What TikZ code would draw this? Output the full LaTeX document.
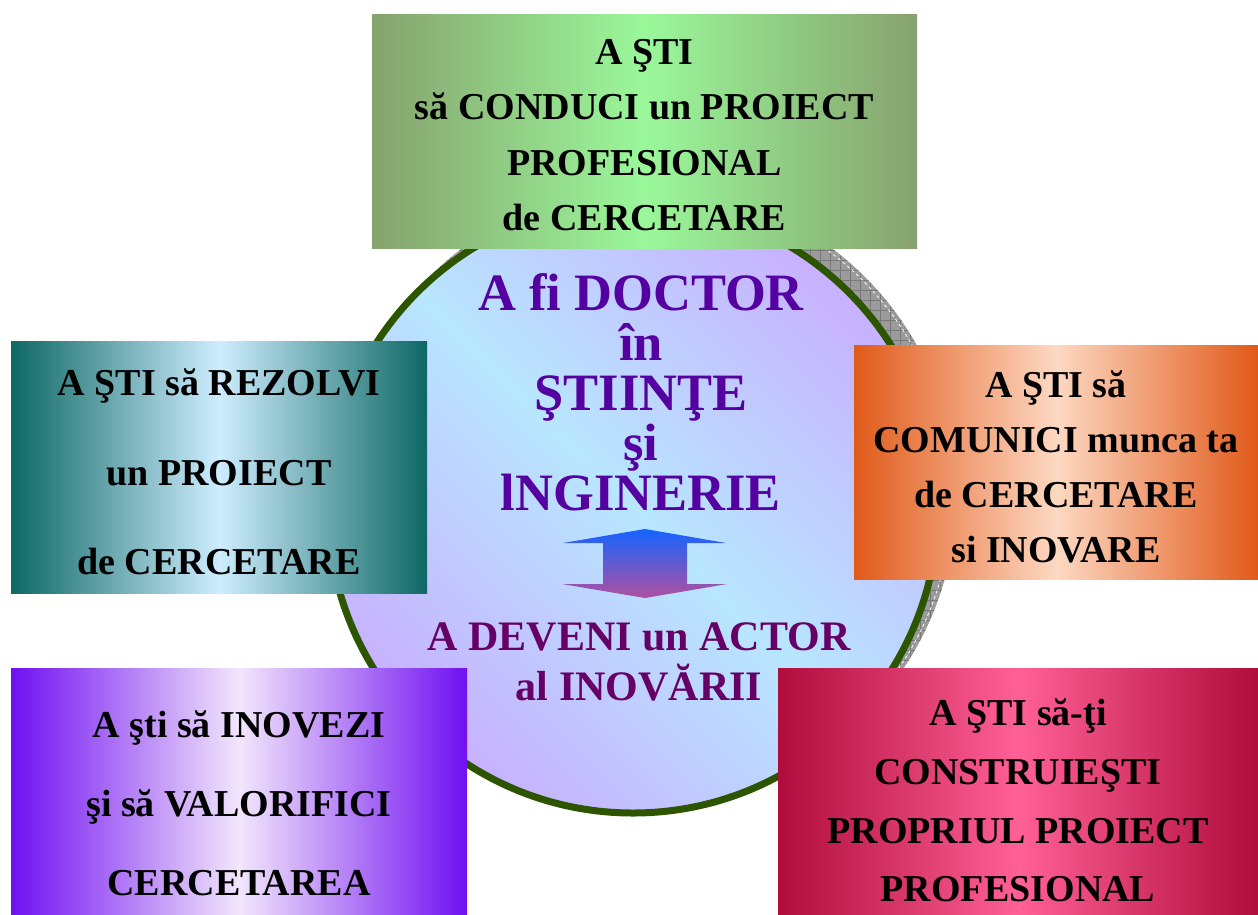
\documentclass[tikz,border=0pt]{standalone}
\usepackage{fontspec}
\setmainfont{Liberation Serif}
\definecolor{ringgreen}{RGB}{45,85,0}
\definecolor{cblue}{RGB}{184,230,255}
\definecolor{clav}{RGB}{200,176,255}
\definecolor{topedge}{RGB}{135,162,110}
\definecolor{topmid}{RGB}{154,248,154}
\definecolor{tealedge}{RGB}{14,104,100}
\definecolor{tealmid}{RGB}{206,237,255}
\definecolor{orgedge}{RGB}{224,90,26}
\definecolor{orgmid}{RGB}{253,216,194}
\definecolor{vioedge}{RGB}{112,16,240}
\definecolor{viomid}{RGB}{242,230,252}
\definecolor{crimedge}{RGB}{176,12,60}
\definecolor{crimmid}{RGB}{255,96,150}
\definecolor{doctxt}{RGB}{85,0,160}
\definecolor{acttxt}{RGB}{102,0,102}
\definecolor{arrtop}{RGB}{20,100,255}
\definecolor{arrbot}{RGB}{176,80,160}
\definecolor{shadowgray}{RGB}{155,155,155}
\definecolor{gridgray}{RGB}{120,120,120}
\tikzset{
  box/.style={rectangle, inner sep=0pt, draw=none},
  txt/.style={align=center, inner sep=0pt, text=black},
}
\begin{document}
\begin{tikzpicture}[x=1pt,y=-1pt]
\useasboundingbox (0,0) rectangle (1258,914);
\fill[white] (0,0) rectangle (1258,914);
% shadow of the disc
\fill[shadowgray] (647,496) circle[radius=309];
\begin{scope}
  \clip (647,496) circle[radius=309];
  \foreach \i in {330,340,...,960} \draw[gridgray, line width=0.6pt] (\i,180) -- (\i,820);
  \foreach \j in {180,190,...,820} \draw[gridgray, line width=0.6pt] (330,\j) -- (960,\j);
\end{scope}
\draw[white, dashed, line width=0.8pt] (647,496) circle[radius=305];
% disc
\node[circle, minimum size=610pt, inner sep=0pt, draw=ringgreen, line width=7pt,
      top color=clav, bottom color=clav, middle color=cblue, shading angle=-45] (disc) at (633,508) {};
% double arrow
\shade[top color=arrtop, bottom color=arrbot]
  (645,529) -- (726,543) -- (687,543) -- (687,584) -- (727,584) -- (645,598)
  -- (562,584) -- (603,584) -- (603,543) -- (563,543) -- cycle;
% centre texts
\node[txt, text=doctxt, font=\bfseries\fontsize{52.5}{50}\selectfont] (doctor) at (641,392)
  {A fi DOCTOR\\în\\ŞTIINŢE\\şi\\lNGINERIE};
\node[txt, text=acttxt, font=\bfseries\fontsize{42}{50}\selectfont] (actor) at (639,662)
  {A DEVENI un ACTOR\\al INOVĂRII};
% boxes
\node[box, minimum width=545pt, minimum height=234pt, left color=topedge, right color=topedge, middle color=topmid] (top) at (644.5,131) {};
\node[box, minimum width=416pt, minimum height=252pt, left color=tealedge, right color=tealedge, middle color=tealmid] (left) at (219,467) {};
\node[box, minimum width=404pt, minimum height=234pt, left color=orgedge, right color=orgedge, middle color=orgmid] (right) at (1056,462) {};
\node[box, minimum width=456pt, minimum height=246pt, left color=vioedge, right color=vioedge, middle color=viomid] (botleft) at (239,791) {};
\node[box, minimum width=480pt, minimum height=246pt, left color=crimedge, right color=crimedge, middle color=crimmid] (botright) at (1018,791) {};
% box texts
\node[txt, font=\bfseries\fontsize{38}{55.3}\selectfont] (topT) at (644.5,135)
  {A ŞTI\\să CONDUCI un PROIECT\\PROFESIONAL\\de CERCETARE};
\node[txt, font=\bfseries\fontsize{38}{89.5}\selectfont] (leftT) at (219,472)
  {A ŞTI să REZOLVI\\un PROIECT\\de CERCETARE};
\node[txt, font=\bfseries\fontsize{38}{55}\selectfont] (rightT) at (1056,467)
  {A ŞTI să\\COMUNICI munca ta\\de CERCETARE\\si INOVARE};
\node[txt, font=\bfseries\fontsize{38}{79}\selectfont] (botleftT) at (239,803.5)
  {A şti să INOVEZI\\şi să VALORIFICI\\CERCETAREA};
\node[txt, font=\bfseries\fontsize{38}{58.7}\selectfont] (botrightT) at (1018,800.5)
  {A ŞTI să-ţi\\CONSTRUIEŞTI\\PROPRIUL PROIECT\\PROFESIONAL};
\end{tikzpicture}
\end{document}
